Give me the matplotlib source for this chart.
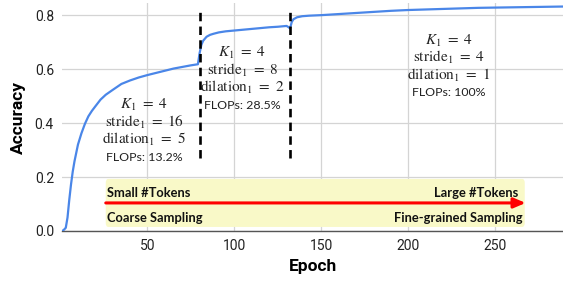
import matplotlib
matplotlib.use("Agg")
import matplotlib.pyplot as plt
from matplotlib.patches import FancyBboxPatch

plt.rcParams['mathtext.fontset'] = 'stix'

epochs = [1, 2, 3, 4, 5, 6, 7, 8, 10, 12, 14, 16, 18, 20, 23, 26, 30, 35, 40, 45,
          50, 55, 60, 65, 70, 75, 79, 80, 81, 82, 84, 86, 88, 91, 95, 100, 105, 110,
          115, 120, 125, 130, 131, 132, 133, 134, 136, 139, 143, 150, 160, 170, 180,
          190, 200, 210, 220, 230, 240, 250, 260, 270, 280, 290]
accuracy = [0.0, 0.005, 0.012, 0.05, 0.115, 0.172, 0.22, 0.258, 0.32, 0.362, 0.397,
            0.425, 0.445, 0.462, 0.487, 0.505, 0.523, 0.545, 0.558, 0.569,
            0.578, 0.586, 0.594, 0.602, 0.608, 0.614, 0.618, 0.66, 0.69, 0.705,
            0.72, 0.727, 0.731, 0.736, 0.740, 0.743, 0.746, 0.749,
            0.752, 0.755, 0.757, 0.760, 0.756, 0.751, 0.775, 0.785, 0.792, 0.796,
            0.798, 0.800, 0.804, 0.808, 0.812,
            0.816, 0.819, 0.821, 0.823, 0.825, 0.827, 0.828, 0.829, 0.830, 0.831, 0.832]

switch_epochs = [80, 132]

stage_centers = [48.1, 104.5, 223.4]
stage_K = ["4", "4", "4"]
stage_stride = ["16", "8", "4"]
stage_dilation = ["5", "2", "1"]
stage_flops = ["13.2%", "28.5%", "100%"]
stage_top = [0.467, 0.660, 0.705]

x_ticks = [50, 100, 150, 200, 250]
y_ticks = [0.0, 0.2, 0.4, 0.6, 0.8]

fig = plt.figure(figsize=(5.63, 2.83), dpi=100)
ax = fig.add_axes([62.3 / 563, 52 / 283, 1 - 62.3 / 563, 228 / 283])

ax.set_xlim(1, 289)
ax.set_ylim(0, 0.845)
ax.set_xticks(x_ticks)
ax.set_yticks(y_ticks)
ax.set_yticklabels([f"{v:.1f}" for v in y_ticks])
ax.grid(True, color="#d4d4d4", lw=0.9)
ax.set_axisbelow(True)
for s in ["top", "right", "left"]:
    ax.spines[s].set_visible(False)
ax.spines["bottom"].set_color("#555555")
ax.spines["bottom"].set_linewidth(1.0)
ax.tick_params(length=0, labelsize=10, colors="#222222", pad=6)
for lab in ax.get_xticklabels() + ax.get_yticklabels():
    lab.set_fontfamily("Roboto")

ax.set_xlabel("Epoch", fontfamily="Roboto", fontweight="bold", fontsize=12.5, labelpad=4)
ax.set_ylabel("Accuracy", fontfamily="Roboto", fontweight="bold", fontsize=12.5, labelpad=6)

# highlight box
box = FancyBboxPatch((26, 0.015), 267 - 26, 0.178,
                     boxstyle="round,pad=0,rounding_size=1.5",
                     fc="#f9f9c8", ec="none", zorder=1,
                     mutation_aspect=0.01)
ax.add_patch(box)
ax.annotate("", xy=(267.5, 0.104), xytext=(26, 0.104),
            arrowprops=dict(arrowstyle="-|>,head_length=0.7,head_width=0.3",
                            color="#ff0000", lw=2.2, shrinkA=0, shrinkB=0), zorder=3)
box_font = dict(fontfamily="Lato", fontweight="bold", fontsize=9.3, color="#111111", zorder=4)
ax.text(26.6, 0.141, "Small #Tokens", ha="left", va="center", **box_font)
ax.text(26.6, 0.048, "Coarse Sampling", ha="left", va="center", **box_font)
ax.text(263.4, 0.141, "Large #Tokens", ha="right", va="center", **box_font)
ax.text(265.7, 0.048, "Fine-grained Sampling", ha="right", va="center", **box_font)

# curve
ax.plot(epochs, accuracy, color="#4a86e8", lw=1.6, zorder=5)

# dashed switch lines
for e in switch_epochs:
    ax.plot([e, e], [0.27, 0.81], color="black", lw=1.9, ls=(0, (3.2, 2.0)), zorder=6)

# stage annotations
dy = 0.0635
mfs = 11
for cx, K, st, dl, fl, top in zip(stage_centers, stage_K, stage_stride,
                                   stage_dilation, stage_flops, stage_top):
    ax.text(cx, top, rf"$K_1\ =\ {K}$", ha="center", va="center", fontsize=mfs, color="#222222")
    ax.text(cx, top - dy, rf"$\mathrm{{stride}}_1\ =\ {st}$", ha="center", va="center",
            fontsize=mfs, color="#222222")
    ax.text(cx, top - 2 * dy, rf"$\mathrm{{dilation}}_1\ =\ {dl}$", ha="center", va="center",
            fontsize=mfs, color="#222222")
    ax.text(cx, top - 3 * dy - 0.003, f"FLOPs: {fl}", ha="center", va="center",
            fontsize=8.9, fontfamily="Lato", color="#222222")

fig.savefig("out.png", dpi=100)
